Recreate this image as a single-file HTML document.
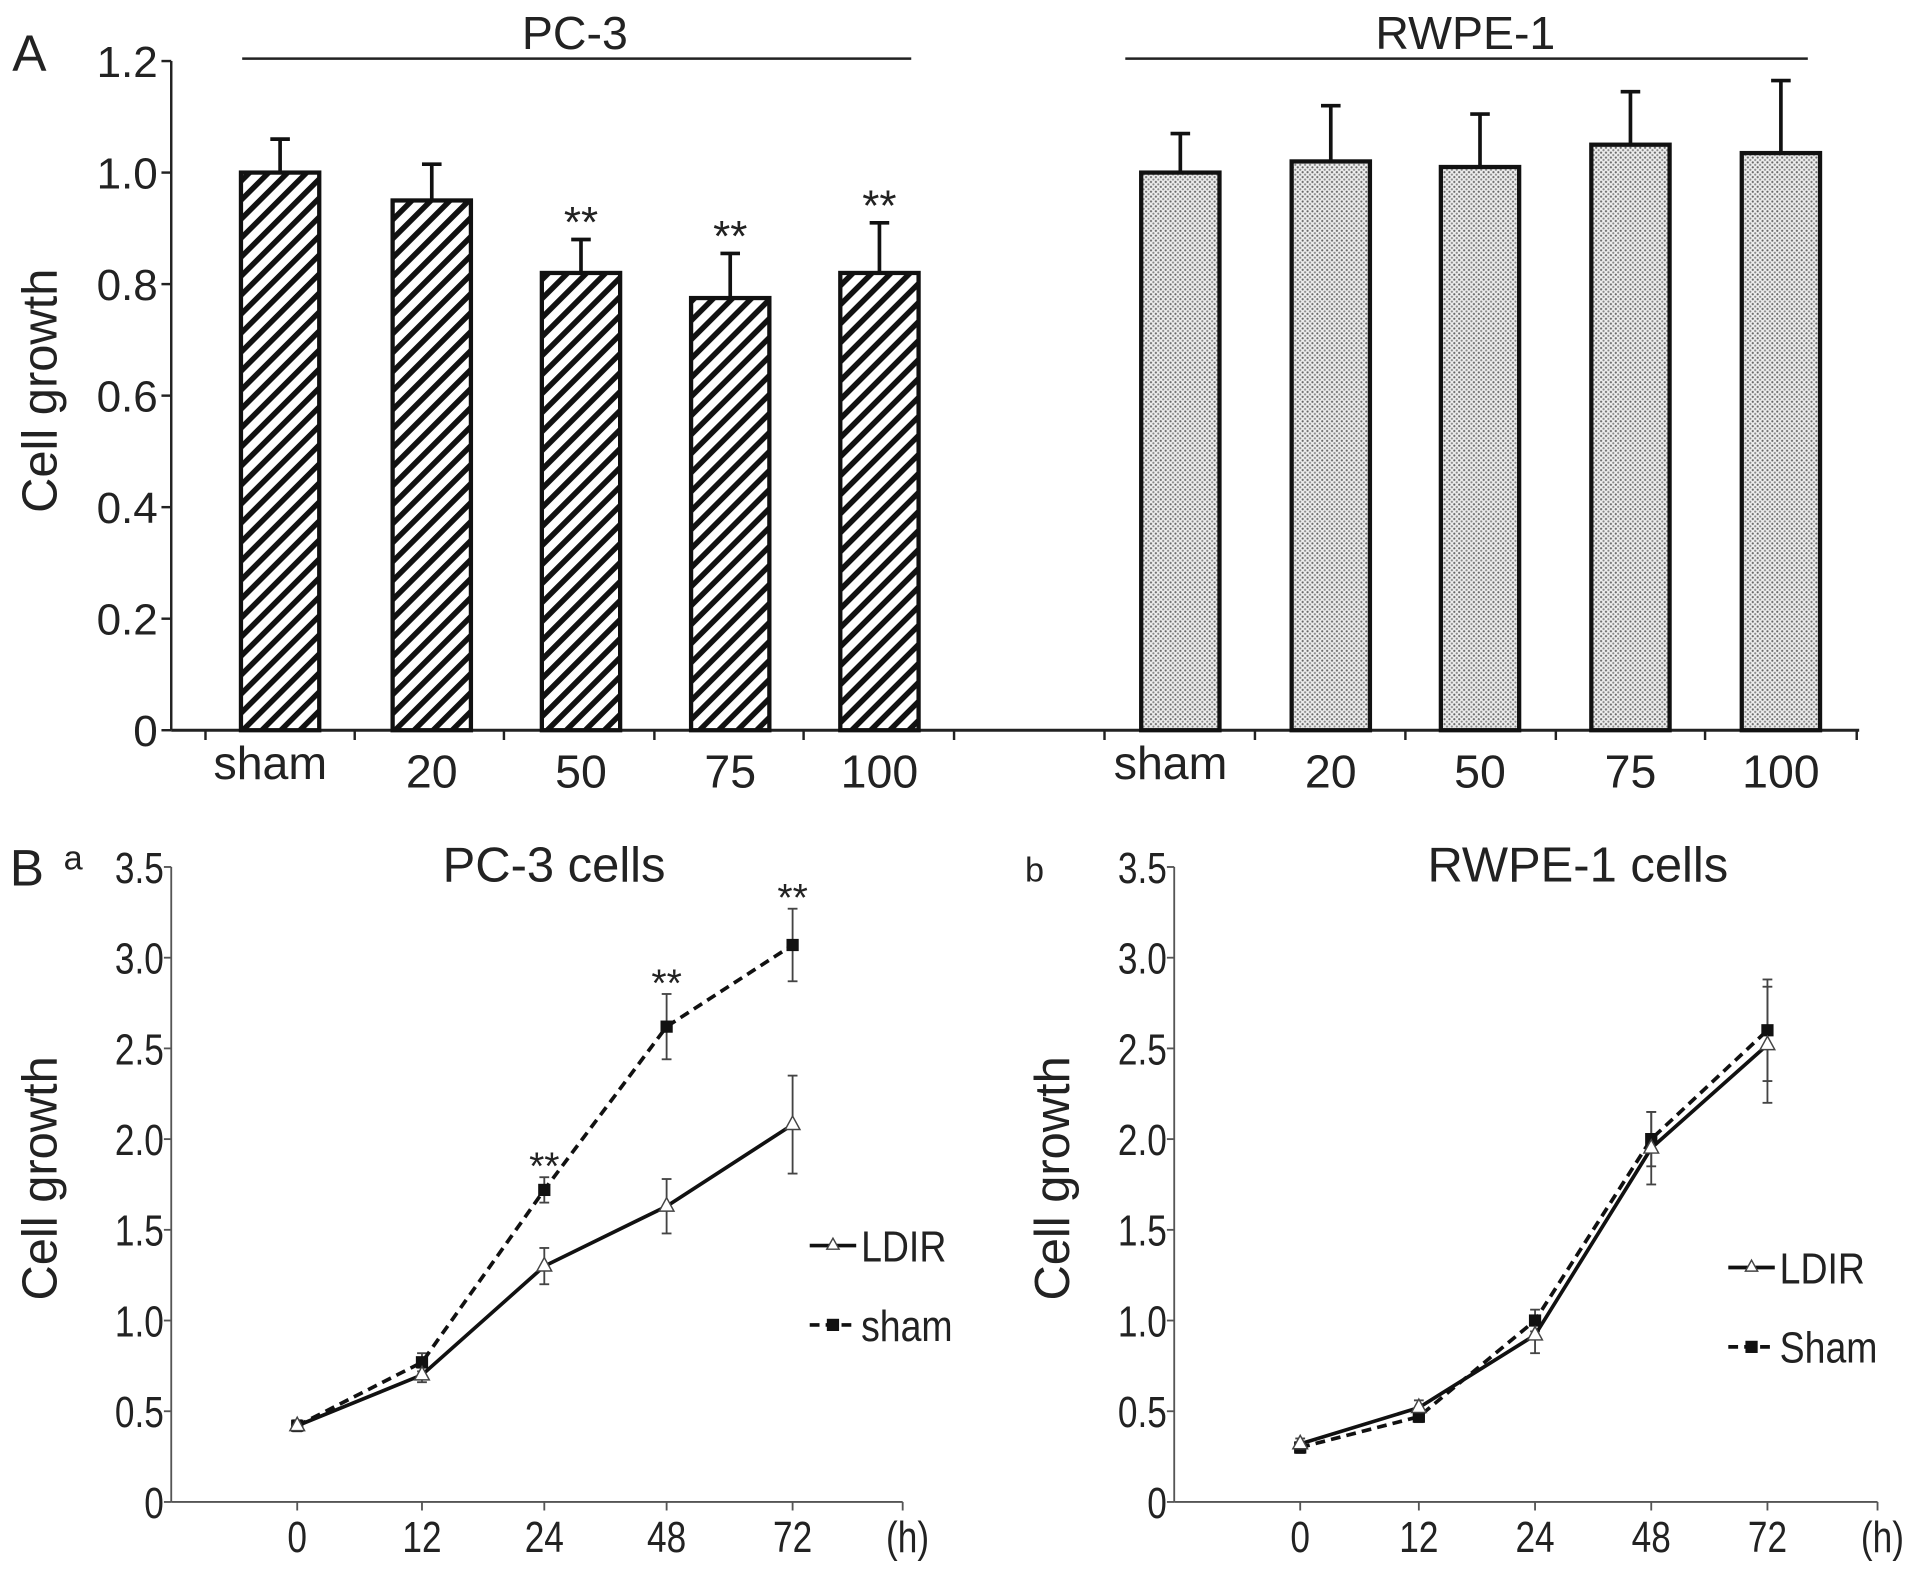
<!DOCTYPE html>
<html><head><meta charset="utf-8"><style>
html,body{margin:0;padding:0;background:#fff;}
svg{display:block;}
text{font-family:"Liberation Sans",sans-serif;fill:#222;}
</style></head><body>
<svg id="c" width="1913" height="1574" viewBox="0 0 1564 1289" preserveAspectRatio="none">
<defs>
<pattern id="hatch" width="11" height="11" patternUnits="userSpaceOnUse" patternTransform="rotate(45)">
<rect width="11" height="11" fill="#fff"/><rect x="0" y="0" width="4.5" height="11" fill="#111"/>
</pattern>
<pattern id="dots" width="4" height="4" patternUnits="userSpaceOnUse">
<rect width="4" height="4" fill="#eee"/><circle cx="1" cy="1" r="0.9" fill="#666"/><circle cx="3" cy="3" r="0.9" fill="#888"/>
</pattern>
</defs>
<g id="root"></g>
</svg>
<script>
const barCats=["sham","20","50","75","100"];
const pc3Vals=[1.0,0.95,0.82,0.775,0.82];
const pc3Errs=[0.06,0.065,0.06,0.08,0.09];
const pc3Sig=[false,false,true,true,true];
const rwpeVals=[1.0,1.02,1.01,1.05,1.035];
const rwpeErrs=[0.07,0.1,0.095,0.095,0.13];
const aTicks=[0,0.2,0.4,0.6,0.8,1.0,1.2];
const aTickLabels=["0","0.2","0.4","0.6","0.8","1.0","1.2"];
const timeCats=["0","12","24","48","72"];
const pcLdir=[0.42,0.7,1.3,1.63,2.08];
const pcLdirErr=[0.03,0.04,0.1,0.15,0.27];
const pcSham=[0.42,0.77,1.72,2.62,3.07];
const pcShamErr=[0.03,0.05,0.07,0.18,0.2];
const pcSig=[false,false,true,true,true];
const rwLdir=[0.32,0.52,0.92,1.95,2.52];
const rwLdirErr=[0.03,0.04,0.1,0.2,0.32];
const rwSham=[0.3,0.47,1.0,2.0,2.6];
const rwShamErr=[0.03,0.03,0.06,0.15,0.28];
const bTicks=[0,0.5,1,1.5,2,2.5,3,3.5];
const bTickLabels=["0","0.5","1.0","1.5","2.0","2.5","3.0","3.5"];

const NS="http://www.w3.org/2000/svg";
const root=document.getElementById('root');
function mk(tag,attrs,parent,txt){const e=document.createElementNS(NS,tag);for(const k in attrs)e.setAttribute(k,attrs[k]);if(txt!==undefined)e.textContent=txt;(parent||root).appendChild(e);return e;}

// Panel A
const yA=v=>598-v*(548/1.2);
const gA=mk('g',{});


let t=mk('text',{x:10,y:58,'font-size':42},gA,'A');

t=mk('text',{x:0,y:0,'font-size':40,transform:'translate(46,320) rotate(-90)','text-anchor':'middle'},gA,'Cell growth');

let ax=mk('line',{x1:140,y1:50,x2:140,y2:598,stroke:'#222','stroke-width':2},gA);

ax=mk('line',{x1:140,y1:598,x2:1520,y2:598,stroke:'#222','stroke-width':2.5},gA);

aTicks.forEach((v,i)=>{
  mk('line',{x1:132,x2:140,y1:yA(v),y2:yA(v),stroke:'#222','stroke-width':2},gA);
  const l=mk('text',{x:129,y:yA(v)+13,'font-size':36,'text-anchor':'end'},gA,aTickLabels[i]);
  
});
[168,290,412,535,657,780,903,1026,1149,1272,1394,1518].forEach(x=>mk('line',{x1:x,x2:x,y1:598,y2:606,stroke:'#222','stroke-width':2},gA));
function bars(centers,vals,errs,fill,sig,name){
  vals.forEach((v,i)=>{
    const cx=centers[i],w=64;
    const b=mk('rect',{x:cx-w/2,y:yA(v),width:w,height:598-yA(v),fill:fill,stroke:'#111','stroke-width':3.5},gA);
    
    mk('line',{x1:cx,x2:cx,y1:yA(v),y2:yA(v+errs[i]),stroke:'#111','stroke-width':3},gA);
    mk('line',{x1:cx-8,x2:cx+8,y1:yA(v+errs[i]),y2:yA(v+errs[i]),stroke:'#111','stroke-width':3},gA);
    if(sig&&sig[i]){const s=mk('text',{x:cx,y:yA(v+errs[i])-2,'font-size':36,'text-anchor':'middle'},gA,'**');}
    const l=mk('text',{x:cx-(i==0?8:0),y:i==0?638:645,'font-size':38,'text-anchor':'middle'},gA,barCats[i]);
    
  });
}
bars([229,353,475,597,719],pc3Vals,pc3Errs,'url(#hatch)',pc3Sig,'pc3');
bars([965,1088,1210,1333,1456],rwpeVals,rwpeErrs,'url(#dots)',null,'rwpe');
mk('line',{x1:198,x2:745,y1:48,y2:48,stroke:'#222','stroke-width':2},gA);
t=mk('text',{x:470,y:40,'font-size':38,'text-anchor':'middle'},gA,'PC-3');
mk('line',{x1:920,x2:1478,y1:48,y2:48,stroke:'#222','stroke-width':2},gA);
t=mk('text',{x:1198,y:40,'font-size':38,'text-anchor':'middle'},gA,'RWPE-1');

// Panel B
const yB=v=>1230-v*(520/3.5);
function lineChart(opt){
  const g=mk('g',{});
  
  
  const x0=opt.ax;
  mk('line',{x1:x0,x2:x0,y1:yB(3.5),y2:1230,stroke:'#555','stroke-width':1.5},g);
  mk('line',{x1:x0,x2:opt.xend,y1:1230,y2:1230,stroke:'#555','stroke-width':1.5},g);
  bTicks.forEach((v,i)=>{
    mk('line',{x1:x0-6,x2:x0,y1:yB(v),y2:yB(v),stroke:'#555','stroke-width':1.5},g);
    const l=mk('text',{x:x0-6,y:yB(v)+13,'font-size':36,'text-anchor':'end',transform:`translate(${x0-6},0) scale(0.8,1) translate(${-(x0-6)},0)`},g,bTickLabels[i]);
    
  });
  const xs=opt.xs;
  xs.forEach((x,i)=>{
    mk('line',{x1:x,x2:x,y1:1230,y2:1237,stroke:'#555','stroke-width':1.5},g);
    const l=mk('text',{x:x,y:1271,'font-size':36,'text-anchor':'middle',transform:`translate(${x},0) scale(0.8,1) translate(${-x},0)`},g,timeCats[i]);
    
  });
  mk('line',{x1:opt.xend,x2:opt.xend,y1:1230,y2:1237,stroke:'#555','stroke-width':1.5},g);
  let h=mk('text',{x:opt.xend+4,y:1271,'font-size':36,'text-anchor':'middle',transform:`translate(${opt.xend+4},0) scale(0.8,1) translate(${-(opt.xend+4)},0)`},g,'(h)');
  
  const errs=(vals,e)=>vals.forEach((v,i)=>{
    mk('line',{x1:xs[i],x2:xs[i],y1:yB(v-e[i]),y2:yB(v+e[i]),stroke:'#444','stroke-width':1.5},g);
    [v-e[i],v+e[i]].forEach(w=>mk('line',{x1:xs[i]-4,x2:xs[i]+4,y1:yB(w),y2:yB(w),stroke:'#444','stroke-width':1.5},g));
  });
  errs(opt.ldir,opt.ldirErr);errs(opt.sham,opt.shamErr);
  let p=mk('polyline',{points:opt.sham.map((v,i)=>xs[i]+','+yB(v)).join(' '),fill:'none',stroke:'#111','stroke-width':3,'stroke-dasharray':'8,5'},g);
  
  p=mk('polyline',{points:opt.ldir.map((v,i)=>xs[i]+','+yB(v)).join(' '),fill:'none',stroke:'#111','stroke-width':3},g);
  
  opt.sham.forEach((v,i)=>{const r=mk('rect',{x:xs[i]-5,y:yB(v)-5,width:10,height:10,fill:'#111'},g);});
  opt.ldir.forEach((v,i)=>{const r=mk('path',{d:`M${xs[i]},${yB(v)-7} l6,11 h-12 z`,fill:'#fff',stroke:'#444','stroke-width':1.2},g);});
  if(opt.sig)opt.sig.forEach((s,i)=>{if(s){const m=mk('text',{x:xs[i],y:yB(opt.sham[i]+opt.shamErr[i])+2,'font-size':32,'text-anchor':'middle',fill:'#444'},g,'**');}});
  let tt=mk('text',{x:opt.titleX,y:722,'font-size':40,'text-anchor':'middle'},g,opt.title);
  
  tt=mk('text',{x:0,y:0,'font-size':40,'text-anchor':'middle',transform:`translate(${opt.ytX},965) rotate(-90)`},g,'Cell growth');
  
  const lx=opt.legX;
  mk('line',{x1:lx,x2:lx+38,y1:opt.legY,y2:opt.legY,stroke:'#111','stroke-width':3},g);
  mk('path',{d:`M${lx+19},${opt.legY-6} l5,9 h-10 z`,fill:'#fff',stroke:'#444','stroke-width':1.2},g);
  let le=mk('text',{x:lx+42,y:opt.legY+13,'font-size':36,transform:`translate(${lx+42},0) scale(0.85,1) translate(${-(lx+42)},0)`},g,'LDIR');
  
  mk('line',{x1:lx,x2:lx+38,y1:opt.legY+65,y2:opt.legY+65,stroke:'#111','stroke-width':3,'stroke-dasharray':'8,5'},g);
  mk('rect',{x:lx+14,y:opt.legY+60,width:10,height:10,fill:'#111'},g);
  le=mk('text',{x:lx+42,y:opt.legY+78,'font-size':36,transform:`translate(${lx+42},0) scale(0.85,1) translate(${-(lx+42)},0)`},g,opt.shamLabel);
  
}
lineChart({name:'panel-b-a',ax:140,xend:738,xs:[243,345,445,545,648],ldir:pcLdir,ldirErr:pcLdirErr,sham:pcSham,shamErr:pcShamErr,sig:pcSig,title:'PC-3 cells',titleX:453,ytX:46,legX:662,legY:1020,shamLabel:'sham'});
lineChart({name:'panel-b-b',ax:960,xend:1535,xs:[1063,1160,1255,1350,1445],ldir:rwLdir,ldirErr:rwLdirErr,sham:rwSham,shamErr:rwShamErr,sig:null,title:'RWPE-1 cells',titleX:1290,ytX:874,legX:1413,legY:1038,shamLabel:'Sham'});
t=mk('text',{x:8,y:725,'font-size':42},root,'B');
t=mk('text',{x:52,y:712,'font-size':28},root,'a');
t=mk('text',{x:838,y:722,'font-size':28},root,'b');
</script>
</body></html>
